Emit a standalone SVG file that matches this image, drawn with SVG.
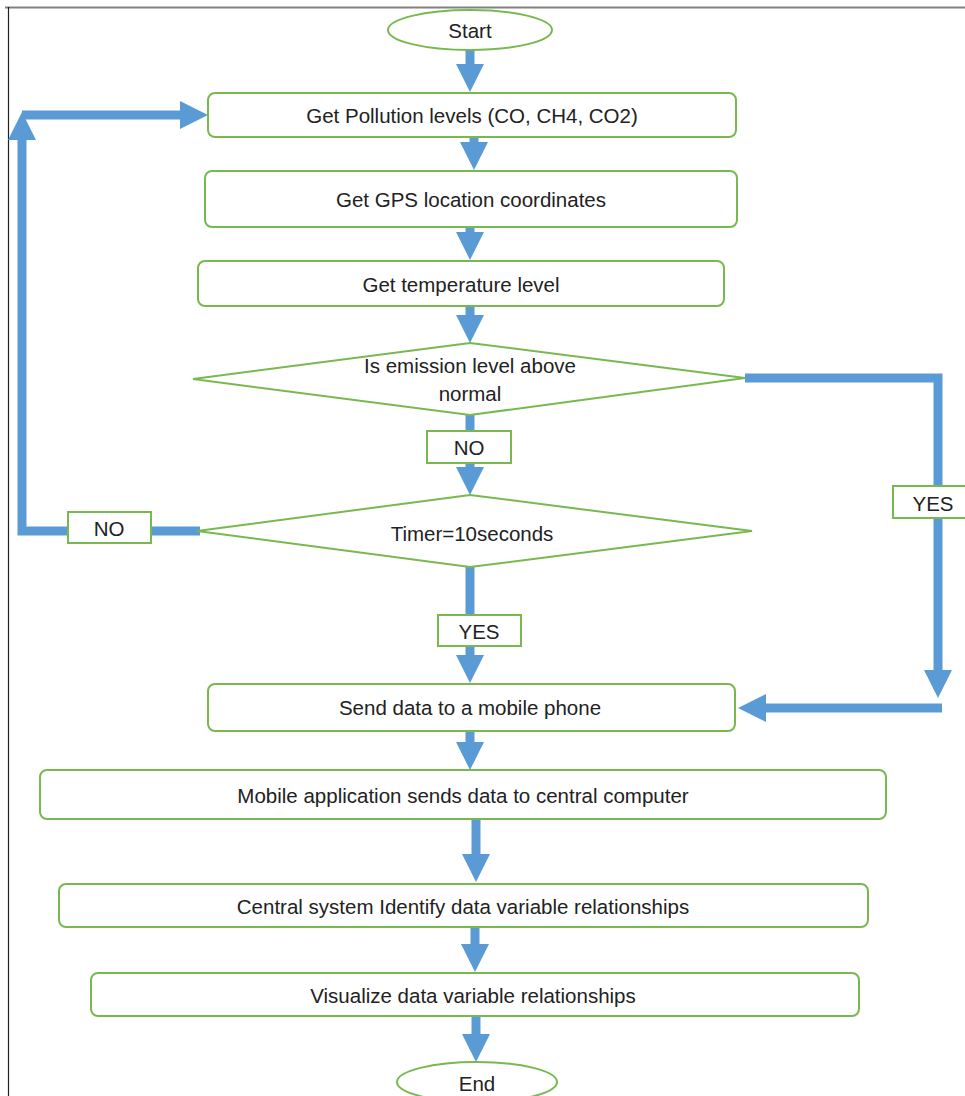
<svg xmlns="http://www.w3.org/2000/svg" width="965" height="1096" viewBox="0 0 965 1096">
<style>
.n{fill:#fff;stroke:#78b94f;stroke-width:2}
.l{fill:#fff;stroke:#78b94f;stroke-width:2}
.t{font-family:"Liberation Sans",Arial,sans-serif;font-size:20.5px;fill:#222;text-anchor:middle;dominant-baseline:central}
.c{fill:none;stroke:#5b9bd5;stroke-width:9;marker-end:url(#ah)}
.s{fill:none;stroke:#5b9bd5;stroke-width:9}
</style>
<defs>
<marker id="ah" markerUnits="userSpaceOnUse" markerWidth="30" markerHeight="28" refX="0" refY="14" orient="auto" overflow="visible">
<path d="M0,0 L28,14 L0,28 z" fill="#5b9bd5"/>
</marker>
</defs>
<rect width="965" height="1096" fill="#fff"/>
<line x1="5" y1="7.5" x2="965" y2="7.5" stroke="#808080" stroke-width="2"/>
<line x1="8.5" y1="7" x2="8.5" y2="1096" stroke="#222" stroke-width="1.2"/>
<g id="connectors">
<path class="c" d="M470,50 V64"/>
<path class="c" d="M474,137 V142"/>
<path class="c" d="M470,227 V232"/>
<path class="c" d="M470,306 V315"/>
<path class="s" d="M470,415 V431"/>
<path class="c" d="M470,463 V467"/>
<path class="c" d="M745,378 H938 V670"/>
<path class="c" d="M942,708 H766"/>
<path class="c" d="M200,531 H22 V140"/>
<path class="c" d="M22,115 H180"/>
<path class="s" d="M470,567 V615"/>
<path class="c" d="M470,646 V655"/>
<path class="c" d="M470,731 V742"/>
<path class="c" d="M476,819 V854"/>
<path class="c" d="M475,927 V944"/>
<path class="c" d="M476,1016 V1034"/>
</g>
<g id="start"><ellipse class="n" cx="470" cy="30" rx="82" ry="20"/><text class="t" x="470" y="30">Start</text></g>
<g id="pollution"><rect class="n" x="208" y="93" width="528" height="44" rx="7"/><text class="t" x="472" y="115">Get Pollution levels (CO, CH4, CO2)</text></g>
<g id="gps"><rect class="n" x="205" y="171" width="532" height="56" rx="7"/><text class="t" x="471" y="199">Get GPS location coordinates</text></g>
<g id="temperature"><rect class="n" x="198" y="261" width="526" height="45" rx="7"/><text class="t" x="461" y="284">Get temperature level</text></g>
<g id="emission"><polygon class="n" points="470,343 745,378 470,415 193,379"/><text class="t" x="470" y="365">Is emission level above</text><text class="t" x="470" y="393">normal</text></g>
<g id="timer"><polygon class="n" points="470,495 752,531 470,567 197,531"/><text class="t" x="472" y="533">Timer=10seconds</text></g>
<g id="send"><rect class="n" x="208" y="684" width="527" height="47" rx="7"/><text class="t" x="470" y="707">Send data to a mobile phone</text></g>
<g id="mobile"><rect class="n" x="40" y="770" width="846" height="49" rx="7"/><text class="t" x="463" y="795">Mobile application sends data to central computer</text></g>
<g id="central"><rect class="n" x="59" y="884" width="809" height="43" rx="7"/><text class="t" x="463" y="906">Central system Identify data variable relationships</text></g>
<g id="visualize"><rect class="n" x="91" y="973" width="768" height="43" rx="7"/><text class="t" x="473" y="995">Visualize data variable relationships</text></g>
<g id="end"><ellipse class="n" cx="477" cy="1082" rx="80" ry="20"/><text class="t" x="477" y="1083">End</text></g>
<g id="label-no-1"><rect class="l" x="427" y="431" width="84" height="32"/><text class="t" x="469" y="447">NO</text></g>
<g id="label-yes-right"><rect class="l" x="893" y="486" width="74" height="32"/><text class="t" x="933" y="503">YES</text></g>
<g id="label-no-left"><rect class="l" x="68" y="512" width="83" height="31"/><text class="t" x="109" y="528">NO</text></g>
<g id="label-yes-down"><rect class="l" x="438" y="615" width="83" height="31"/><text class="t" x="479" y="631">YES</text></g>
</svg>
